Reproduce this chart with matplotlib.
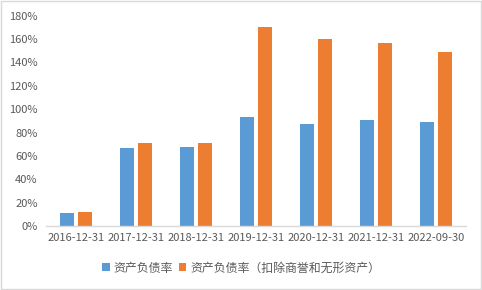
import numpy as np
from matplotlib import pyplot as plt
from matplotlib.patches import Rectangle

plt.rcParams['font.family'] = ['Noto Sans CJK SC', 'DejaVu Sans']

dates = ['2016-12-31', '2017-12-31', '2018-12-31', '2019-12-31',
         '2020-12-31', '2021-12-31', '2022-09-30']
debt_ratio = [11.4, 66.8, 67.6, 93.3, 87.3, 90.8, 89.0]
debt_ratio_adj = [12.3, 71.0, 71.0, 170.4, 160.1, 156.7, 149.0]
label1 = '资产负债率'
label2 = '资产负债率（扣除商誉和无形资产）'

blue = '#5B9BD5'
orange = '#ED7D31'
text_color = '#595959'

fig = plt.figure(figsize=(4.82, 2.90), dpi=100)
ax = fig.add_axes([46 / 482, 64 / 290, 420 / 482, 210.3 / 290])

x = np.arange(len(dates))
w = 0.233
off = 0.142
ax.bar(x - off, debt_ratio, w, color=blue, label=label1)
ax.bar(x + off, debt_ratio_adj, w, color=orange, label=label2)

ax.set_xlim(-0.5, len(dates) - 0.5)
ax.set_ylim(0, 180)
ax.set_yticks(np.arange(0, 181, 20))
ax.set_yticklabels(['{}%'.format(v) for v in range(0, 181, 20)])
ax.set_xticks(x)
ax.set_xticklabels(dates)
ax.tick_params(axis='both', length=0, labelsize=8, colors=text_color)
ax.tick_params(axis='x', pad=5)
ax.tick_params(axis='y', pad=6)

for s in ['top', 'right', 'left']:
    ax.spines[s].set_visible(False)
ax.spines['bottom'].set_color('#D9D9D9')
ax.spines['bottom'].set_linewidth(1)

leg = fig.legend(loc='center', bbox_to_anchor=(0.5, 22 / 290), ncol=2, frameon=False,
                 fontsize=8.6, handlelength=0.65, handleheight=0.65, handletextpad=0.3,
                 columnspacing=0.5)
for t in leg.get_texts():
    t.set_color(text_color)

# chart border
fig.patches.append(Rectangle((0.002, 0.003), 0.995, 0.993, transform=fig.transFigure,
                             fill=False, edgecolor='#D9D9D9', linewidth=1))

fig.savefig('out.png', dpi=100)
